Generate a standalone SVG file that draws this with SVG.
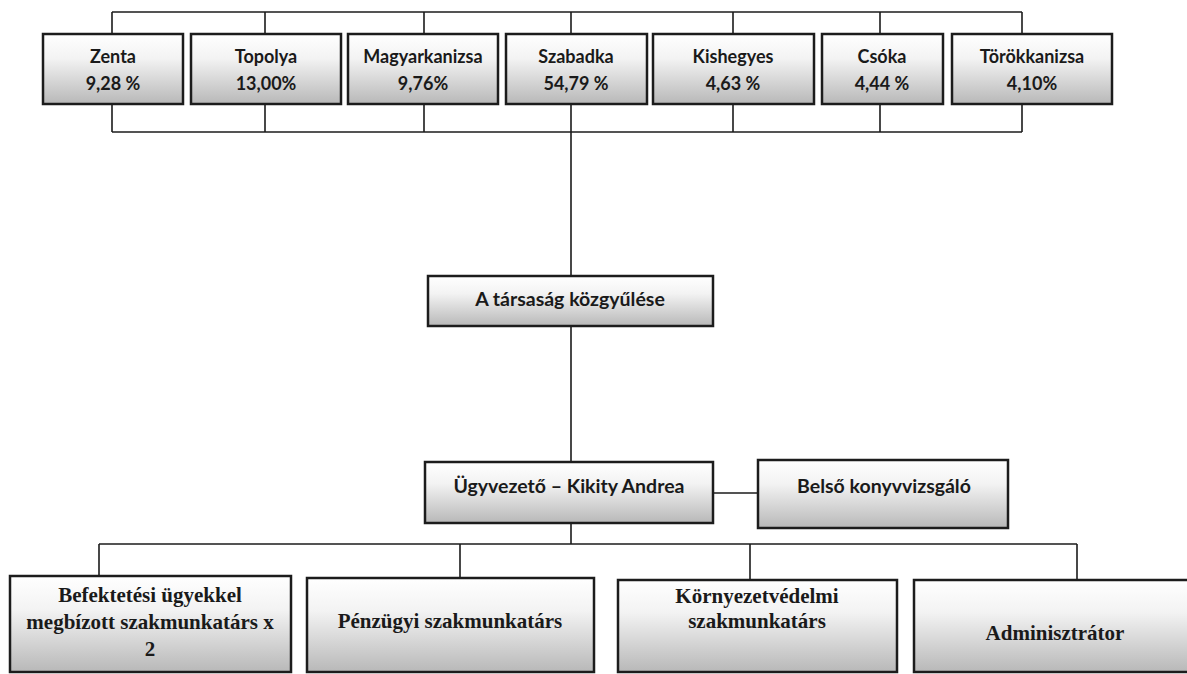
<svg xmlns="http://www.w3.org/2000/svg" width="1187" height="674" viewBox="0 0 1187 674">
<defs>
<linearGradient id="g" x1="0" y1="0" x2="0" y2="1">
<stop offset="0" stop-color="#ffffff"/>
<stop offset="0.35" stop-color="#f3f3f3"/>
<stop offset="1" stop-color="#b8b8b8"/>
</linearGradient>
<style>
.box{fill:url(#g);stroke:#1c1c1c;stroke-width:2.5}
.c{fill:none;stroke:#1c1c1c;stroke-width:1.6}
.s{font-family:Lato,"Liberation Sans",sans-serif;font-weight:bold;font-size:18px;fill:#1a1a1a;text-anchor:middle}
.m{font-size:19.5px}
.r{font-family:"Liberation Serif","Times New Roman",serif;font-weight:bold;font-size:21px;fill:#1a1a1a;text-anchor:middle}
</style>
</defs>
<rect width="1187" height="674" fill="#ffffff"/>
<g id="connectors">
<path class="c" d="M112 12H1022M112 12V34M265 12V34M424 12V34M571 12V34M733 12V34M880 12V34M1022 12V34"/>
<path class="c" d="M112 132H1022M112 104V132M265 104V132M424 104V132M733 104V132M880 104V132M1022 104V132"/>
<path class="c" d="M571 104V276M571 326V462M571 523V544M713 493H758"/>
<path class="c" d="M99 544H1077M99 544V576M460 544V578M750 544V580M1077 544V580"/>
</g>
<g id="zenta"><rect class="box" x="43" y="34" width="140" height="70"/><text class="s" x="113" y="63">Zenta</text><text class="s" x="113" y="90">9,28 %</text></g>
<g id="topolya"><rect class="box" x="191" y="34" width="150" height="70"/><text class="s" x="266" y="63">Topolya</text><text class="s" x="266" y="90">13,00%</text></g>
<g id="magyarkanizsa"><rect class="box" x="348" y="34" width="150" height="70"/><text class="s" x="423" y="63">Magyarkanizsa</text><text class="s" x="423" y="90">9,76%</text></g>
<g id="szabadka"><rect class="box" x="506" y="34" width="141" height="70"/><text class="s" x="576" y="63">Szabadka</text><text class="s" x="576" y="90">54,79 %</text></g>
<g id="kishegyes"><rect class="box" x="653" y="34" width="161" height="70"/><text class="s" x="733" y="63">Kishegyes</text><text class="s" x="733" y="90">4,63 %</text></g>
<g id="csoka"><rect class="box" x="822" y="34" width="121" height="70"/><text class="s" x="882" y="63">Csóka</text><text class="s" x="882" y="90">4,44 %</text></g>
<g id="torokkanizsa"><rect class="box" x="952" y="34" width="160" height="70"/><text class="s" x="1032" y="63">Törökkanizsa</text><text class="s" x="1032" y="90">4,10%</text></g>
<g id="kozgyules"><rect class="box" x="428" y="276" width="285" height="50"/><text class="s m" x="570" y="306">A társaság közgyűlése</text></g>
<g id="ugyvezeto"><rect class="box" x="425" y="462" width="288" height="61"/><text class="s m" x="569" y="493">Ügyvezető – Kikity Andrea</text></g>
<g id="belso"><rect class="box" x="758" y="460" width="250" height="68"/><text class="s m" x="884" y="493">Belső konyvvizsgáló</text></g>
<g id="befektetesi"><rect class="box" x="10" y="576" width="281" height="96"/><text class="r" x="150" y="602">Befektetési ügyekkel</text><text class="r" x="150" y="629">megbízott szakmunkatárs x</text><text class="r" x="150" y="656">2</text></g>
<g id="penzugyi"><rect class="box" x="307" y="578" width="287" height="94"/><text class="r" x="450" y="628">Pénzügyi szakmunkatárs</text></g>
<g id="kornyezetvedelmi"><rect class="box" x="618" y="580" width="279" height="92"/><text class="r" x="757" y="603">Környezetvédelmi</text><text class="r" x="757" y="628">szakmunkatárs</text></g>
<g id="adminisztrator"><rect class="box" x="914" y="580" width="284" height="92"/><text class="r" x="1055" y="640">Adminisztrátor</text></g>
</svg>
